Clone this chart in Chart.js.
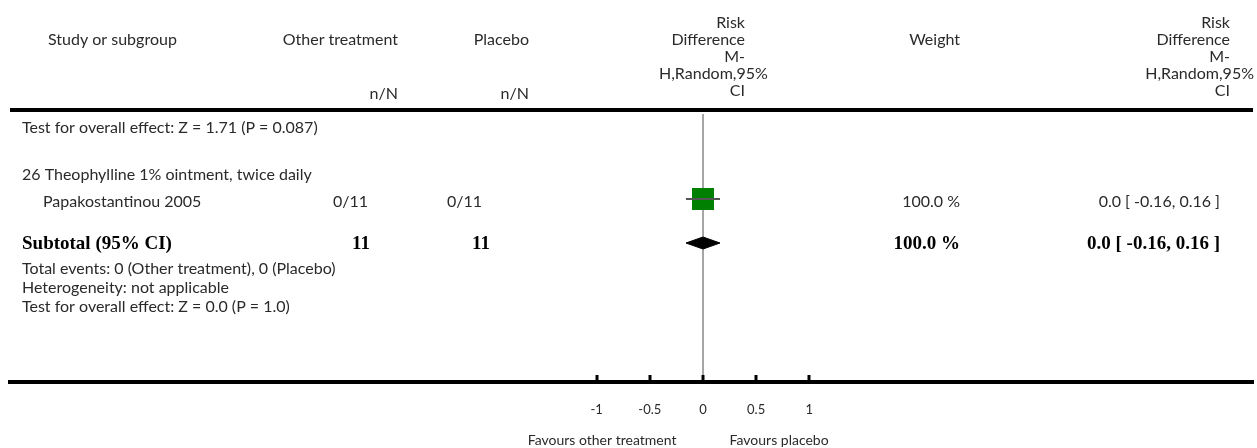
<!DOCTYPE html>
<html>
<head>
<meta charset="utf-8">
<script src="https://cdn.jsdelivr.net/npm/chart.js@4.4.0/dist/chart.umd.min.js"></script>
<style>
  html, body { margin: 0; padding: 0; background: #fff; }
</style>
</head>
<body>
<canvas id="forest" width="1257" height="448"></canvas>
<script>
// ---- data ----
const studies = ['Papakostantinou 2005'];
const eventsOther = [0];
const totalOther = [11];
const eventsPlacebo = [0];
const totalPlacebo = [11];
const weights = [100.0];
const estimates = [0.0];
const ciLow = [-0.16];
const ciHigh = [0.16];

const subtotalTotals = [11, 11];
const subtotalWeight = 100.0;
const subtotalEffect = [0.0, -0.16, 0.16]; // estimate, low, high

const xTicks = [-1, -0.5, 0, 0.5, 1];
const xTickLabels = ['-1', '-0.5', '0', '0.5', '1'];

const groupTitle = '26 Theophylline 1% ointment, twice daily';
const topNote = 'Test for overall effect: Z = 1.71 (P = 0.087)';
const footNotes = [
    'Total events: 0 (Other treatment), 0 (Placebo)',
    'Heterogeneity: not applicable',
    'Test for overall effect: Z = 0.0 (P = 1.0)'
];
const rdHeader = ['Risk', 'Difference', 'M-', 'H,Random,95%', 'CI'];
const favours = ['Favours other treatment', 'Favours placebo'];

// ---- layout (pixels) ----
const AXIS_Y = 382;
const RIGHT_EDGE = 1253;
const rowY = {
    head: [23, 40, 57, 74, 91],
    nN: 94,
    headLine: 110,
    note: 128,
    group: 175,
    study: 200,
    subtotal: 244,
    foot: [269, 288, 307]
};
const col = {
    left: 22, indent: 43, studyHead: 48,
    otherHead: 398, other: 368, otherBold: 370,
    placeboHead: 529, placebo: 482, placeboBold: 490,
    rdMid: [659, 745],
    weightHead: 960, weight: 960,
    rd: 1220, rdHead: [1149, 1230]
};
// x scale chosen so -1..1 lands where the reference puts it
const PX_PER_UNIT = 106.3, ZERO_PX = 703;
const X_MIN = (10 - ZERO_PX) / PX_PER_UNIT;
const X_MAX = (RIGHT_EDGE - ZERO_PX) / PX_PER_UNIT;

const SANS = 'Lato, "Open Sans", sans-serif';
const SERIF = '"Liberation Serif", "DejaVu Serif", serif';
const INK = '#2a2a2a';
const REG = '16px ' + SANS;
const BOLD = 'bold 19px ' + SERIF;

const fmtCI = (e, lo, hi) => e.toFixed(1) + ' [ ' + lo.toFixed(2) + ', ' + hi.toFixed(2) + ' ]';

// ---- datasets ----
const datasets = [];
datasets.push({
    // line of no effect
    data: [{ x: 0, y: rowY.headLine + 4 }, { x: 0, y: AXIS_Y }],
    showLine: true, borderColor: '#9a9a9a', borderWidth: 1, pointRadius: 0, order: 9
});
studies.forEach((s, i) => {
    datasets.push({
        data: [{ x: ciLow[i], y: rowY.study - 1 }, { x: ciHigh[i], y: rowY.study - 1 }],
        showLine: true, borderColor: '#555', borderWidth: 2, pointRadius: 0, order: 1
    });
});
datasets.push({
    data: studies.map((s, i) => ({ x: estimates[i], y: rowY.study - 1 })),
    pointStyle: 'rect',
    pointRadius: studies.map((s, i) => 15.6 * Math.sqrt(weights[i] / 100)),
    backgroundColor: '#008000', borderWidth: 0, order: 3
});
datasets.push({
    // pooled diamond
    data: [
        { x: subtotalEffect[1], y: rowY.subtotal - 1 },
        { x: subtotalEffect[0], y: rowY.subtotal - 7 },
        { x: subtotalEffect[2], y: rowY.subtotal - 1 },
        { x: subtotalEffect[0], y: rowY.subtotal + 5 },
        { x: subtotalEffect[1], y: rowY.subtotal - 1 }
    ],
    showLine: true, fill: 'shape', backgroundColor: '#000', borderColor: '#000',
    borderWidth: 1, pointRadius: 0, tension: 0, order: 2
});

// ---- table text and decorations ----
const tablePlugin = {
    id: 'table',
    afterDraw(chart) {
        const c = chart.ctx, x = chart.scales.x, y = chart.scales.y;
        const Y = v => y.getPixelForValue(v);
        c.save();

        // header rule
        c.fillStyle = '#000';
        c.fillRect(10, Y(rowY.headLine) - 2, RIGHT_EDGE - 10, 4);

        // tick marks standing on the axis
        xTicks.forEach(t => {
            const px = Math.round(x.getPixelForValue(t));
            c.fillRect(px - 1.5, AXIS_Y - 7, 3, 7);
        });

        const text = (s, px, py, align, font, color) => {
            c.font = font || REG;
            c.fillStyle = color || INK;
            c.textAlign = align || 'left';
            c.textBaseline = 'middle';
            c.fillText(s, px, py);
        };
        // lines right-aligned in a cell; a line wider than the cell spills over,
        // starting at the cell's left edge but kept inside the picture
        const cellLines = (lines, cell) => {
            c.font = REG;
            lines.forEach((s, i) => {
                const w = c.measureText(s).width;
                if (w > cell[1] - cell[0]) {
                    text(s, Math.min(cell[0], RIGHT_EDGE + 1 - w), Y(rowY.head[i]), 'left');
                } else {
                    text(s, cell[1], Y(rowY.head[i]), 'right');
                }
            });
        };

        // header
        const hy = Y(rowY.head[1]);
        text('Study or subgroup', col.studyHead, hy, 'left');
        text('Other treatment', col.otherHead, hy, 'right');
        text('Placebo', col.placeboHead, hy, 'right');
        text('Weight', col.weightHead, hy, 'right');
        text('n/N', col.otherHead, Y(rowY.nN), 'right');
        text('n/N', col.placeboHead, Y(rowY.nN), 'right');
        cellLines(rdHeader, col.rdMid);
        cellLines(rdHeader, col.rdHead);

        text(topNote, col.left, Y(rowY.note));
        text(groupTitle, col.left, Y(rowY.group));

        studies.forEach((s, i) => {
            const py = Y(rowY.study + 2);
            text(s, col.indent, py);
            text(eventsOther[i] + '/' + totalOther[i], col.other, py, 'right');
            text(eventsPlacebo[i] + '/' + totalPlacebo[i], col.placebo, py, 'right');
            text(weights[i].toFixed(1) + ' %', col.weight, py, 'right');
            text(fmtCI(estimates[i], ciLow[i], ciHigh[i]), col.rd, py, 'right');
        });

        const sy = Y(rowY.subtotal);
        text('Subtotal (95% CI)', col.left, sy, 'left', BOLD, '#000');
        text(String(subtotalTotals[0]), col.otherBold, sy, 'right', BOLD, '#000');
        text(String(subtotalTotals[1]), col.placeboBold, sy, 'right', BOLD, '#000');
        text(subtotalWeight.toFixed(1) + ' %', col.weight, sy, 'right', BOLD, '#000');
        text(fmtCI(subtotalEffect[0], subtotalEffect[1], subtotalEffect[2]), col.rd, sy, 'right', BOLD, '#000');

        footNotes.forEach((s, i) => text(s, col.left, Y(rowY.foot[i])));

        // favours labels under the axis
        const fy = 440;
        text(favours[0], x.getPixelForValue(-0.25), fy, 'right', '14px ' + SANS);
        text(favours[1], x.getPixelForValue(0.25), fy, 'left', '14px ' + SANS);
        c.restore();
    }
};

new Chart(document.getElementById('forest'), {
    type: 'scatter',
    data: { datasets },
    options: {
        responsive: false,
        animation: false,
        devicePixelRatio: 1,
        layout: { autoPadding: false, padding: { left: 10, right: 4, top: 0, bottom: 0 } },
        plugins: { legend: { display: false }, tooltip: { enabled: false } },
        scales: {
            x: {
                type: 'linear',
                min: X_MIN,
                max: X_MAX,
                afterBuildTicks: s => { s.ticks = xTicks.map(v => ({ value: v })); },
                afterFit: s => {
                    s.height = 448 - AXIS_Y;
                    s.paddingLeft = 0;
                    s.paddingRight = 0;
                },
                ticks: {
                    autoSkip: false,
                    maxRotation: 0,
                    padding: 20,
                    color: INK,
                    font: { family: SANS, size: 13 },
                    callback: (v, i) => xTickLabels[i]
                },
                grid: { display: false, drawTicks: false },
                border: { display: true, color: '#000', width: 4 }
            },
            y: { type: 'linear', display: false, reverse: true, min: 0, max: AXIS_Y }
        }
    },
    plugins: [tablePlugin]
});
</script>
</body>
</html>
